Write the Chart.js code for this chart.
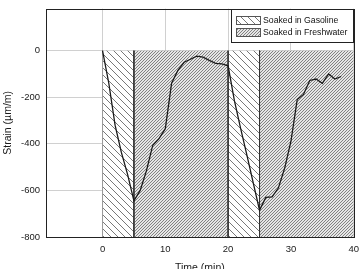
<!DOCTYPE html>
<html>
<head>
<meta charset="utf-8">
<script src="https://cdn.jsdelivr.net/npm/chart.js@4.4.1/dist/chart.umd.min.js"></script>
<style>
  html, body { margin: 0; padding: 0; background: #fff; }
  #wrap { width: 362px; height: 269px; }
</style>
</head>
<body>
<div id="wrap"><canvas id="chart" width="362" height="269"></canvas></div>
<script>
// strain readings, one per minute
const timeMin = [0,1,2,3,4,5,6,7,8,9,10,11,12,13,14,15,16,17,18,19,20,21,22,23,24,25,26,27,28,29,30,31,32,33,34,35,36,37,38];
const strain = [0,-140,-320,-437,-532,-645,-600,-515,-406,-378,-335,-140,-85,-50,-37,-24,-28,-42,-55,-57,-65,-215,-335,-450,-568,-685,-630,-628,-590,-505,-390,-210,-188,-128,-122,-140,-100,-122,-111];

// soaking periods
const regionStart = [0, 5, 20, 25];
const regionEnd = [5, 20, 25, 40];
const regionKind = ['Soaked in Gasoline', 'Soaked in Freshwater', 'Soaked in Gasoline', 'Soaked in Freshwater'];
const regionTop = 0;
const regionBottom = -800;
const legendLabels = ['Soaked in Gasoline', 'Soaked in Freshwater'];

const xTicks = [0, 10, 20, 30, 40];
const yTicks = [-800, -600, -400, -200, 0];

const FONT = '"Liberation Sans", Arial, sans-serif';

function hatch(size, dir, bg, fg, lw) {
  const c = document.createElement('canvas');
  c.width = size; c.height = size;
  const g = c.getContext('2d');
  g.fillStyle = bg;
  g.fillRect(0, 0, size, size);
  g.strokeStyle = fg;
  g.lineWidth = lw;
  g.beginPath();
  for (let k = -1; k <= 1; k++) {
    if (dir === 'back') {
      g.moveTo(k * size - 1, -1); g.lineTo(k * size + size + 1, size + 1);
    } else {
      g.moveTo(k * size - 1, size + 1); g.lineTo(k * size + size + 1, -1);
    }
  }
  g.stroke();
  return g.createPattern(c, 'repeat');
}

const gasPattern = hatch(7, 'back', '#ffffff', '#555555', 0.8);
const freshPattern = hatch(3, 'fwd', '#e6e6e6', '#707070', 0.85);
const patternFor = kind => kind === legendLabels[0] ? gasPattern : freshPattern;

const regionSets = regionStart.map((s, i) => ({
  data: [{x: s, y: regionTop}, {x: regionEnd[i], y: regionTop}],
  fill: {value: regionBottom},
  backgroundColor: patternFor(regionKind[i]),
  borderWidth: 0,
  borderColor: 'rgba(0,0,0,0)',
  pointRadius: 0,
  order: 3
}));

const edgeSets = regionStart.map(s => ({
  data: [{x: s, y: regionTop}, {x: s, y: regionBottom}],
  borderColor: s === 0 ? '#9a9a9a' : '#333',
  borderWidth: 1,
  pointRadius: 0,
  fill: false,
  order: 2
}));

const strainSet = {
  data: timeMin.map((t, i) => ({x: t, y: strain[i]})),
  borderColor: '#1a1a1a',
  borderWidth: 1.3,
  pointRadius: 0,
  tension: 0,
  fill: false,
  order: 0
};

// frame around plot + legend box
const decor = {
  id: 'decor',
  afterDraw(chart) {
    const {ctx, chartArea: a} = chart;
    ctx.save();
    ctx.strokeStyle = '#222';
    ctx.lineWidth = 1;
    ctx.strokeRect(Math.round(a.left) + 0.5, Math.round(a.top) + 0.5,
      Math.round(a.right - a.left), Math.round(a.bottom - a.top));

    const lx = 231.5, ly = 9.5, lw = 122, lh = 33;
    ctx.fillStyle = '#fff';
    ctx.fillRect(lx, ly, lw, lh);
    ctx.strokeRect(lx, ly, lw, lh);
    ctx.font = '8.7px ' + FONT;
    ctx.textBaseline = 'middle';
    legendLabels.forEach((label, i) => {
      const sy = 16.5 + i * 12;
      ctx.fillStyle = patternFor(label);
      ctx.fillRect(236.5, sy, 24, 8);
      ctx.strokeStyle = '#555';
      ctx.strokeRect(236.5, sy, 24, 8);
      ctx.fillStyle = '#111';
      ctx.fillText(label, 263, sy + 4.5);
    });
    ctx.restore();
  }
};

new Chart(document.getElementById('chart'), {
  type: 'line',
  data: {datasets: [strainSet, ...edgeSets, ...regionSets]},
  options: {
    responsive: false,
    animation: false,
    layout: {padding: {top: 4, right: 6, left: 0, bottom: 0}},
    plugins: {legend: {display: false}, tooltip: {enabled: false}},
    scales: {
      x: {
        type: 'linear',
        min: -9,
        max: 40,
        afterFit: s => { s.height = 32; },
        afterBuildTicks: s => { s.ticks = xTicks.map(v => ({value: v})); },
        grid: {color: '#d0d0d0', borderDash: [1, 2], tickLength: 4, tickColor: 'rgba(0,0,0,0)'},
        border: {display: false},
        ticks: {color: '#1a1a1a', font: {family: FONT, size: 9.5}, padding: 3, maxRotation: 0},
        title: {display: true, text: 'Time (min)', color: '#1a1a1a', font: {family: FONT, size: 10.5}, padding: {top: 0, bottom: -5}}
      },
      y: {
        type: 'linear',
        min: -800,
        max: 180,
        afterFit: s => { s.width = 46; },
        afterBuildTicks: s => { s.ticks = yTicks.map(v => ({value: v})); },
        grid: {color: '#d0d0d0', borderDash: [1, 2], tickLength: 3, tickColor: 'rgba(0,0,0,0)'},
        border: {display: false},
        ticks: {color: '#1a1a1a', font: {family: FONT, size: 9.5}, padding: 3},
        title: {display: true, text: 'Strain (µm/m)', color: '#1a1a1a', font: {family: FONT, size: 10.5}, padding: {top: 2, bottom: 0}}
      }
    }
  },
  plugins: [decor]
});
</script>
</body>
</html>
